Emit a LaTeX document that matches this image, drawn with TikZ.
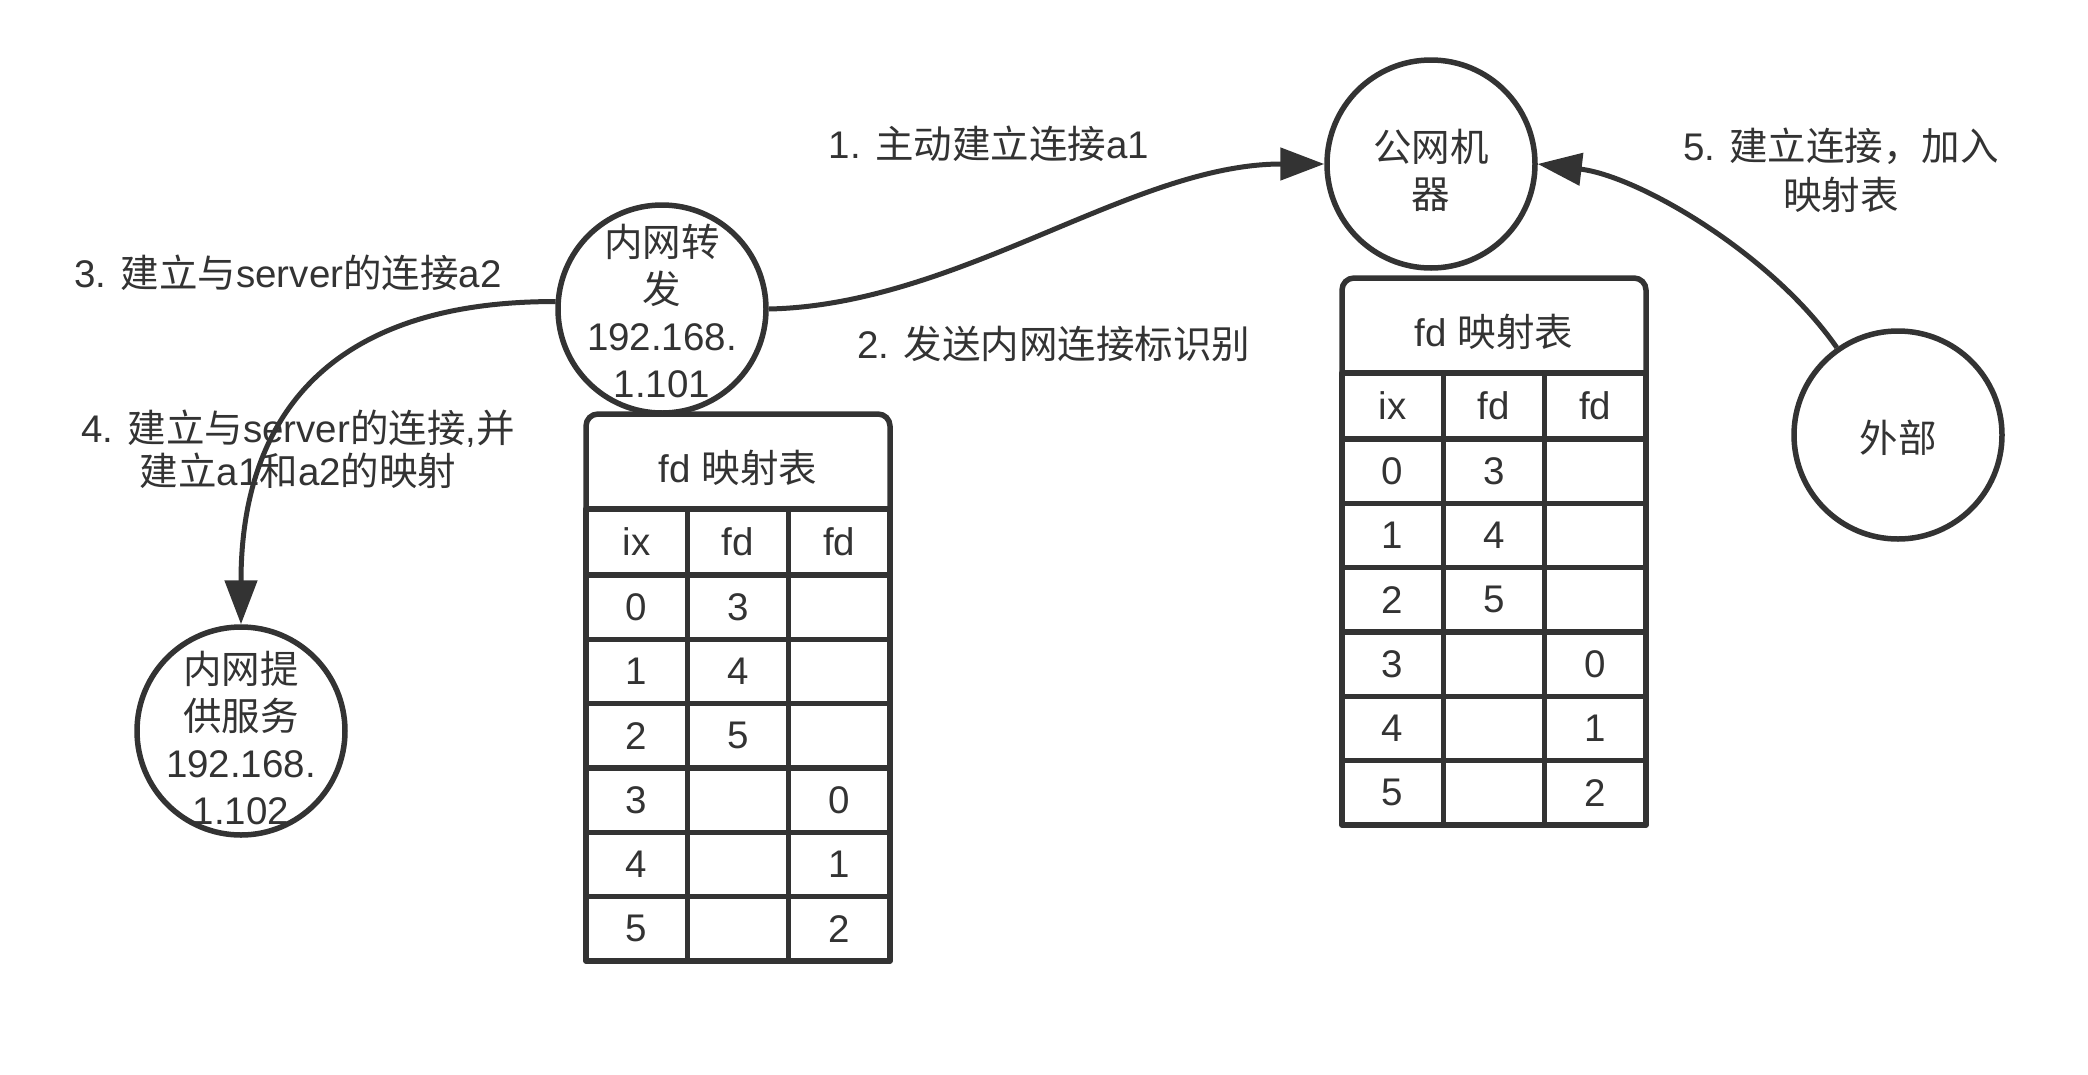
\documentclass[tikz,border=0pt]{standalone}
\usepackage{fontspec}
\setmainfont{Liberation Sans}
\newfontfamily\cjk{Noto Sans CJK SC}
\newcommand\zh[1]{{\cjk #1}}
\usetikzlibrary{arrows.meta}
\definecolor{ink}{HTML}{333333}
\tikzset{
  txt/.style={text=ink, font=\fontsize{38.5}{47}\selectfont, inner sep=0pt},
  circ/.style={draw=ink, line width=5.5pt, circle, minimum size=208pt, inner sep=0pt},
  lbl/.style={txt, align=center},
  conn/.style={draw=ink, line width=5pt, -{Triangle[length=44pt,width=32pt]}},
  cell/.style={txt, draw=ink, line width=5.5pt, minimum width=101.33pt, minimum height=64.33pt},
  tbl/.style={draw=ink, line width=5.5pt},
}
\newcommand\fdtable[3]{%
\begin{scope}[shift={(#2,#3)}]
\draw[tbl, rounded corners=12pt] (0,95) -- (0,0) -- (304,0) -- (304,95);
\node[txt] (#1-title) at (152,54) {fd \zh{映射表}};
\foreach \t [count=\i from 0] in {ix,fd,fd} {
  \node[cell, minimum height=66pt] (#1-h\i) at ({50.67+101.33*\i},128) {\t};
}
\foreach \a/\b/\c [count=\r from 0] in {0/3/{},1/4/{},2/5/{},3/{}/0,4/{}/1,5/{}/2} {
  \node[cell] (#1-\r-0) at (50.67, {161+64.33*(\r+0.5)}) {\a};
  \node[cell] (#1-\r-1) at (152, {161+64.33*(\r+0.5)}) {\b};
  \node[cell] (#1-\r-2) at (253.33, {161+64.33*(\r+0.5)}) {\c};
}
\end{scope}}
\begin{document}
\begin{tikzpicture}[x=1pt,y=-1pt,line join=round]
\useasboundingbox (0,0) rectangle (2088,1074);
\fill[white] (0,0) rectangle (2088,1074);

% circles
\node[circ] (fwd) at (662,309) {};
\node[lbl] (fwdt) at (662,311) {\zh{内网转}\\\zh{发}\\192.168.\\1.101};
\node[circ] (pub) at (1431,164) {};
\node[lbl] (pubt) at (1431,170) {\zh{公网机}\\\zh{器}};
\node[circ] (ext) at (1898,435) {};
\node[lbl] (extt) at (1898,438) {\zh{外部}};
\node[circ] (srv) at (241,731) {};
\node[lbl] (srvt) at (241,738) {\zh{内网提}\\\zh{供服务}\\192.168.\\1.102};

% connectors
\draw[conn] (fwd.east) .. controls (959,305) and (1132,164) .. (pub.west);
\draw[conn] (ext.125) .. controls (1771,253) and (1638,176) .. (pub.east);
\draw[conn] (fwd.176) .. controls (320,301) and (241,426) .. (srv.north);

% labels
\node[lbl] (l1) at (989,144) {1. \zh{主动建立连接}a1};
\node[lbl] (l2) at (1054,344) {2. \zh{发送内网连接标识别}};
\node[lbl] (l3) at (288,273) {3. \zh{建立与}server\zh{的连接}a2};
\node[lbl, font=\fontsize{38.5}{43}\selectfont] (l4) at (298,449) {4. \zh{建立与}server\zh{的连接},\zh{并}\\\zh{建立}a1\zh{和}a2\zh{的映射}};
\node[lbl, font=\fontsize{38.5}{49}\selectfont] (l5) at (1841,170) {5. \zh{建立连接，加入}\\\zh{映射表}};

% tables
\fdtable{T1}{586}{414}
\fdtable{T2}{1342}{278}
\end{tikzpicture}
\end{document}
